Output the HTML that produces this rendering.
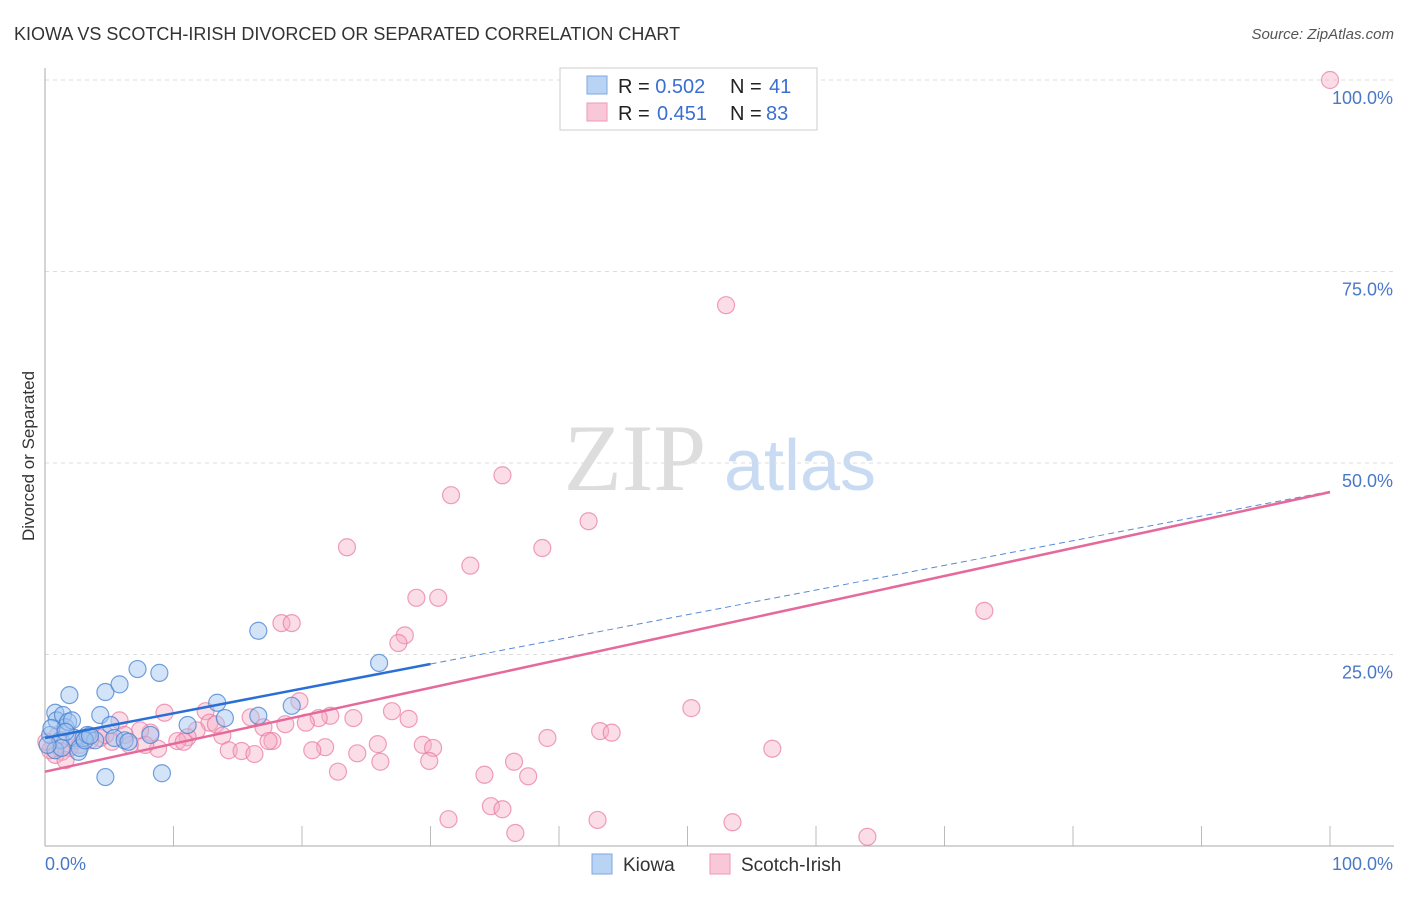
<!DOCTYPE html>
<html><head><meta charset="utf-8"><style>
body{margin:0;background:#fff;font-family:"Liberation Sans",sans-serif;}
</style></head><body>
<svg width="1406" height="892" id="svg" xmlns="http://www.w3.org/2000/svg">
<text x="14" y="40" font-size="18" fill="#333">KIOWA VS SCOTCH-IRISH DIVORCED OR SEPARATED CORRELATION CHART</text>
<text x="1394" y="39" font-size="15" fill="#555" text-anchor="end" font-style="italic">Source: ZipAtlas.com</text>
<text x="635" y="490" font-size="95" fill="#ddd" text-anchor="middle" font-family="Liberation Serif,serif">ZIP</text>
<text x="800" y="490" font-size="72" fill="#c8dbf3" text-anchor="middle">atlas</text>
<text x="34" y="456" font-size="17" fill="#333" text-anchor="middle" transform="rotate(-90 34 456)">Divorced or Separated</text>
<g id="grid"></g><g id="marks"></g><g id="lines"></g>
<g>
<rect x="560" y="68" width="257" height="62" fill="#fff" stroke="#ccc"/>
<rect x="587" y="76" width="20" height="18" fill="#b9d3f5" stroke="#7ea7e0"/>
<rect x="587" y="103" width="20" height="18" fill="#f9c8d8" stroke="#ee9ab5"/>
<text x="618" y="93" font-size="20" fill="#222">R = <tspan fill="#3a6fd1">0.502</tspan><tspan x="730">N = </tspan><tspan fill="#3a6fd1" x="769">41</tspan></text>
<text x="618" y="120" font-size="20" fill="#222">R = <tspan fill="#3a6fd1" x="657">0.451</tspan><tspan x="730">N = </tspan><tspan fill="#3a6fd1" x="766">83</tspan></text>
</g>
<g>
<rect x="592" y="854" width="20" height="20" fill="#b9d3f5" stroke="#7ea7e0"/>
<text x="623" y="871" font-size="19" fill="#333">Kiowa</text>
<rect x="710" y="854" width="20" height="20" fill="#f9c8d8" stroke="#ee9ab5"/>
<text x="741" y="871" font-size="19" fill="#333">Scotch-Irish</text>
</g>
</svg>
<script>
const yTicks=[25,50,75,100];
const yTickLabels=["25.0%","50.0%","75.0%","100.0%"];
const xTicks=[0,10,20,30,40,50,60,70,80,90,100];
const kiowaX=[0.4,0.8,0.9,1.2,1.4,1.6,1.8,1.9,2.1,2.3,2.6,2.7,3.0,3.3,3.9,4.3,4.7,4.7,5.1,5.4,5.8,6.2,6.5,7.2,8.2,8.9,9.1,11.1,13.4,14.0,16.6,16.6,19.2,26.0,0.8,1.3,3.1,3.5,0.2,0.5,1.6];
const kiowaY=[14.5,17.4,16.4,13.8,17.1,15.5,16.2,19.7,16.4,14.1,12.3,12.8,14.1,14.5,13.8,17.1,20.1,9.0,15.8,14.1,21.1,13.8,13.6,23.1,14.5,22.6,9.5,15.8,18.7,16.7,28.1,17.0,18.3,23.9,12.5,12.8,13.8,14.4,13.2,15.4,14.9];
const scotchX=[100,53.0,35.6,31.6,42.3,23.5,38.7,33.1,28.9,30.6,73.1,18.4,19.2,28.0,27.5,19.8,50.3,9.3,12.5,27.0,16.0,22.2,21.3,24.0,28.3,12.8,13.3,18.7,20.3,17.0,43.2,44.1,8.2,11.8,13.8,11.1,10.3,10.8,17.7,17.4,39.1,29.4,30.2,25.9,21.8,20.8,24.3,14.3,15.3,16.3,8.8,56.6,26.1,29.9,36.5,22.8,34.2,37.6,34.7,35.6,31.4,43.0,53.5,36.6,64.0,5.8,7.4,7.8,6.6,5.2,4.3,3.5,2.7,1.9,1.3,0.8,0.4,1.6,2.3,1.0,4.7,6.2,0.1];
const scotchY=[100,70.6,48.4,45.8,42.4,39.0,38.9,36.6,32.4,32.4,30.7,29.1,29.1,27.5,26.5,18.9,18.0,17.4,17.6,17.6,16.8,17.0,16.7,16.7,16.6,16.1,15.9,15.9,16.1,15.5,15.0,14.8,14.8,15.1,14.4,14.2,13.7,13.6,13.7,13.7,14.1,13.2,12.8,13.3,12.9,12.5,12.1,12.5,12.4,12.0,12.7,12.7,11.0,11.1,11.0,9.7,9.3,9.1,5.2,4.8,3.5,3.4,3.1,1.7,1.2,16.4,15.1,13.2,13.2,13.6,14.1,13.8,13.2,12.8,12.3,11.9,12.5,11.2,13.8,14.5,14.5,14.5,13.6];
const kiowaTrend=[14.1,46.3];
const scotchTrend=[9.7,46.2];
const NS="http://www.w3.org/2000/svg";
const X=v=>45+v*12.85, Y=v=>846-v*7.66;
function mk(t,a,p){const e=document.createElementNS(NS,t);for(const k in a)e.setAttribute(k,a[k]);p.appendChild(e);return e;}
const grid=document.getElementById('grid'),marks=document.getElementById('marks'),lines=document.getElementById('lines');
yTicks.forEach((t,i)=>{
 const l=mk('line',{x1:45,x2:1394,y1:Y(t),y2:Y(t),stroke:'#ddd','stroke-dasharray':'4,4'},grid);
 
 
 const tx=mk('text',{x:1393,y:Y(t)+24,'font-size':18,fill:'#4a78c8','text-anchor':'end'},grid);
 tx.textContent=yTickLabels[i];
 
 
});
xTicks.forEach(t=>{
 const l=mk('line',{x1:X(t),x2:X(t),y1:826,y2:846,stroke:'#bbb'},grid);
 
 
});
let ax=mk('line',{x1:45,x2:1394,y1:846,y2:846,stroke:'#aaa'},grid);


ax=mk('line',{x1:45,x2:45,y1:68,y2:846,stroke:'#aaa'},grid);


let t0=mk('text',{x:45,y:870,'font-size':18,fill:'#4a78c8'},grid);t0.textContent='0.0%';


t0=mk('text',{x:1393,y:870,'font-size':18,fill:'#4a78c8','text-anchor':'end'},grid);t0.textContent='100.0%';


scotchX.forEach((v,i)=>{
 const c=mk('circle',{cx:X(v),cy:Y(scotchY[i]),r:8.5,fill:'rgba(246,170,195,0.4)',stroke:'rgba(232,120,158,0.7)','stroke-width':1.2},marks);
 
 
});
kiowaX.forEach((v,i)=>{
 const c=mk('circle',{cx:X(v),cy:Y(kiowaY[i]),r:8.5,fill:'rgba(160,196,240,0.45)',stroke:'rgba(70,130,210,0.75)','stroke-width':1.2},marks);
 
 
});
const kv=x=>kiowaTrend[0]+(kiowaTrend[1]-kiowaTrend[0])*x/100;
let l=mk('line',{x1:X(0),y1:Y(kv(0)),x2:X(30),y2:Y(kv(30)),stroke:'#2a6fd6','stroke-width':2.5},lines);


l=mk('line',{x1:X(30),y1:Y(kv(30)),x2:X(100),y2:Y(kv(100)),stroke:'#5a8ad6','stroke-width':1,'stroke-dasharray':'6,4'},lines);


l=mk('line',{x1:X(0),y1:Y(scotchTrend[0]),x2:X(100),y2:Y(scotchTrend[1]),stroke:'#e5699a','stroke-width':2.5},lines);


</script>
</body></html>
